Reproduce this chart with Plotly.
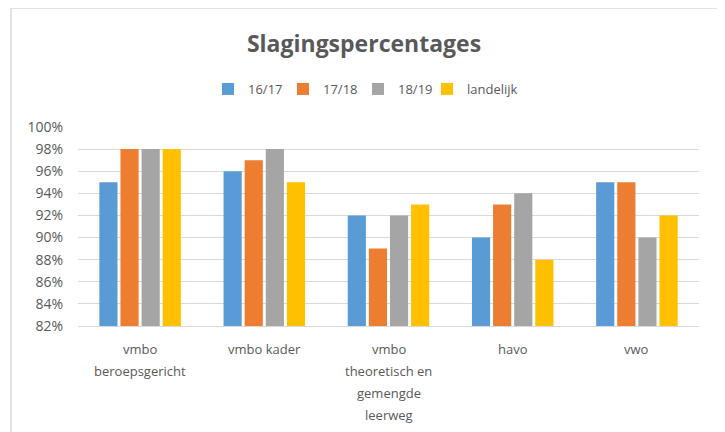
import plotly.graph_objects as go

categories = ["vmbo<br>beroepsgericht", "vmbo kader", "vmbo<br>theoretisch en<br>gemengde<br>leerweg", "havo", "vwo"]
series_names = ["16/17", "17/18", "18/19", "landelijk"]
v_1617 = [95, 96, 92, 90, 95]
v_1718 = [98, 97, 89, 93, 95]
v_1819 = [98, 98, 92, 94, 90]
v_land = [98, 95, 93, 88, 92]
tick_vals = [82, 84, 86, 88, 90, 92, 94, 96, 98, 100]
tick_text = [f"{v}%" for v in tick_vals]

colors = ["#5B9BD5", "#ED7D31", "#A5A5A5", "#FFC000"]
values = [v_1617, v_1718, v_1819, v_land]

FONT = "Open Sans, Liberation Sans, sans-serif"
TXT = "#595959"

# the page body adds an 8px offset; the figure is sized to fill the rest
W, H = 717, 424
L, R, T, B = 70, 26, 119, 106
pw, ph = W - L - R, H - T - B

def px_x(p):
    return (p - L) / pw

def px_y(p):
    return (H - B - p) / ph

legend_ids = ["legend", "legend2", "legend3", "legend4"]
legend_left = [200, 275, 350, 419]

fig = go.Figure()
for name, vals, col, lid in zip(series_names, values, colors, legend_ids):
    fig.add_trace(go.Bar(name=name, x=categories, y=vals, legend=lid,
                         marker=dict(color=col, line=dict(width=0))))

# category labels, one annotation per line for Excel-like line spacing
annotations = []
for cat in categories:
    for i, line in enumerate(cat.split("<br>")):
        annotations.append(dict(text=line, x=cat, xref="x", y=px_y(341 + 22 * i), yref="paper",
                                xanchor="center", yanchor="middle", showarrow=False,
                                font=dict(family=FONT, size=13, color=TXT)))

legend_layout = {}
for lid, lx in zip(legend_ids, legend_left):
    legend_layout[lid] = dict(orientation="h", x=px_x(lx), xanchor="left", y=px_y(81), yanchor="middle",
                              font=dict(family=FONT, size=13, color=TXT), itemwidth=30,
                              bgcolor="rgba(0,0,0,0)")

fig.update_layout(
    width=W, height=H,
    margin=dict(l=L, r=R, t=T, b=B, pad=0),
    paper_bgcolor="white", plot_bgcolor="white",
    barmode="group", bargap=0.32, bargroupgap=0.14,
    font=dict(family=FONT, size=13, color=TXT),
    title=dict(text="<b>Slagingspercentages</b>", x=356 / W, xref="container", xanchor="center",
               y=(H - 36) / H, yref="container", yanchor="middle",
               font=dict(family=FONT, size=23, color=TXT)),
    showlegend=True,
    annotations=annotations,
    xaxis=dict(showgrid=False, showline=True, linecolor="#d9d9d9", linewidth=1, ticks="",
               showticklabels=False),
    yaxis=dict(range=[82, 100], tickvals=tick_vals, ticktext=tick_text, showgrid=True,
               gridcolor="#d9d9d9", gridwidth=1, zeroline=False, showline=False, ticks="",
               ticklabelstandoff=14, tickfont=dict(family=FONT, size=14, color=TXT)),
    shapes=[dict(type="rect", xref="paper", yref="paper",
                 x0=px_x(3), x1=px_x(713), y0=px_y(440), y1=px_y(0),
                 line=dict(color="#d9d9d9", width=1.5), fillcolor="rgba(0,0,0,0)", layer="below")],
    **legend_layout,
)

fig.write_html("out.html")
